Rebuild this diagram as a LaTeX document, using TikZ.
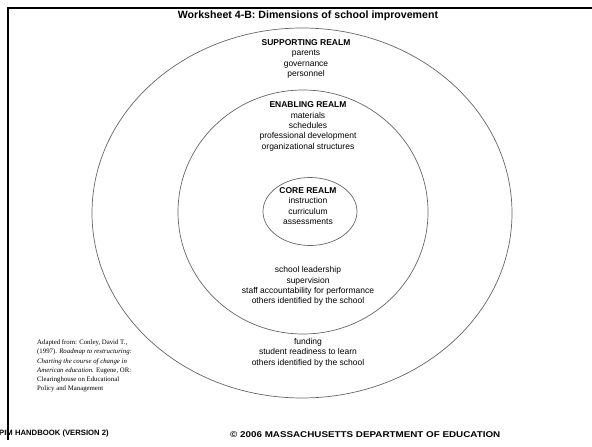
\documentclass[tikz,border=0pt]{standalone}
\usepackage{graphicx}
\usepackage{fontspec}
\setmainfont{Liberation Sans}
\newfontfamily\citefont{Liberation Serif}
\begin{document}
\begin{tikzpicture}[x=1pt,y=-1pt,
  ring/.style={draw=black!60,line width=0.7pt},
  itemtext/.style={align=center,inner sep=0pt,font=\fontsize{8.5}{10.3}\selectfont},
  frame/.style={line width=2.4pt,black},
  foot/.style={inner sep=0pt,anchor=west}]
\useasboundingbox (0,0) rectangle (592,447);
\fill[white] (0,0) rectangle (592,447);
% slide frame
\draw[frame] (8,440) -- (8,8) -- (592,8);
% title
\node[inner sep=0pt,font=\fontsize{10.6}{12}\selectfont\bfseries] (title) at (308,15.5)
  {Worksheet 4-B: Dimensions of school improvement};
% concentric realms
\coordinate (outerc) at (302,213);
\coordinate (midc) at (303,212);
\coordinate (corec) at (310,211.5);
\draw[ring] (outerc) ellipse [x radius=210,y radius=185];
\draw[ring] (midc) ellipse [x radius=125,y radius=122];
\draw[ring] (corec) ellipse [x radius=47,y radius=34];
% realm labels
\node[itemtext] (supporting) at (306,59)
  {{\bfseries SUPPORTING REALM}\\parents\\governance\\personnel};
\node[itemtext] (enabling) at (308,126.5)
  {{\bfseries ENABLING REALM}\\materials\\schedules\\professional development\\organizational structures};
\node[itemtext] (core) at (308,206)
  {{\bfseries CORE REALM}\\instruction\\curriculum\\assessments};
\node[itemtext] (enablingmore) at (308,286)
  {school leadership\\supervision\\staff accountability for performance\\others identified by the school};
\node[itemtext] (supportingmore) at (308,352.5)
  {funding\\student readiness to learn\\others identified by the school};
% source note
\node[anchor=west,align=left,inner sep=0pt,font=\citefont\fontsize{6.8}{9.2}\selectfont] (source) at (37,366)
  {Adapted from: Conley, David T.,\\(1997). \textit{Roadmap to restructuring:}\\\textit{Charting the course of change in}\\\textit{American education.} Eugene, OR:\\Clearinghouse on Educational\\Policy and Management};
% footer
\node[foot,font=\fontsize{7.7}{9}\selectfont\bfseries] (handbook) at (-1,434) {PIM HANDBOOK (VERSION 2)};
\node[foot,font=\fontsize{8.4}{9}\selectfont\bfseries] (copyright) at (230,435)
  {\scalebox{1.17}[1]{\textcopyright{} 2006 MASSACHUSETTS DEPARTMENT OF EDUCATION}};
\end{tikzpicture}
\end{document}
